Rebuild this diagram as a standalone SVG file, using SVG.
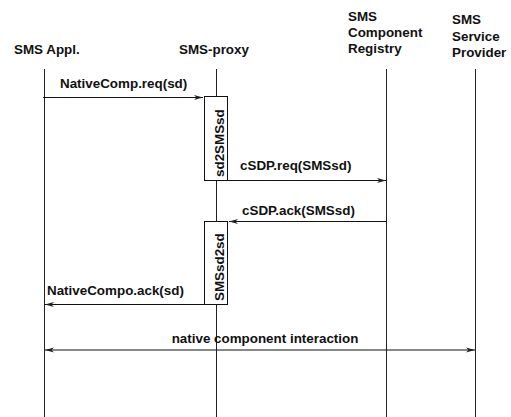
<svg xmlns="http://www.w3.org/2000/svg" width="511" height="417" viewBox="0 0 511 417">
<defs>
<style>
text{font-family:"Liberation Sans",Arial,sans-serif;font-weight:bold;font-size:13.4px;fill:#111}
.life{stroke:#222;stroke-width:1;fill:none}
.msg{stroke:#111;stroke-width:1;fill:none}
.act{fill:#fff;stroke:#111;stroke-width:1}
</style>
<marker id="ah" viewBox="0 0 9 6" refX="9" refY="3" markerWidth="9" markerHeight="6" markerUnits="userSpaceOnUse" orient="auto-start-reverse">
<path d="M0,0.5 L9,3 L0,5.5 L2.5,3 z" fill="#222"/>
</marker>
</defs>
<rect width="511" height="417" fill="#fff"/>
<g id="sms-appl">
<text x="14" y="54">SMS Appl.</text>
<line class="life" x1="44.5" y1="69" x2="44.5" y2="417"/>
</g>
<g id="sms-proxy">
<text x="179" y="54">SMS-proxy</text>
<line class="life" x1="216.5" y1="69" x2="216.5" y2="417"/>
</g>
<g id="registry">
<text x="348" y="21">SMS</text>
<text x="348" y="37">Component</text>
<text x="348" y="53">Registry</text>
<line class="life" x1="386.5" y1="69" x2="386.5" y2="417"/>
</g>
<g id="provider">
<text x="452" y="24">SMS</text>
<text x="452" y="41">Service</text>
<text x="452" y="57">Provider</text>
<line class="life" x1="475.5" y1="69" x2="475.5" y2="417"/>
</g>
<g id="act-sd2SMSsd">
<rect class="act" x="204.5" y="96.5" width="23" height="84"/>
<text transform="translate(224,177) rotate(-90)">sd2SMSsd</text>
</g>
<g id="act-SMSsd2sd">
<rect class="act" x="204.5" y="221.5" width="23" height="83"/>
<text transform="translate(224,301) rotate(-90)">SMSsd2sd</text>
</g>
<g id="connectors">
<line class="msg" x1="43" y1="97.5" x2="203" y2="97.5" marker-end="url(#ah)"/>
<text x="60" y="88">NativeComp.req(sd)</text>
<line class="msg" x1="227.5" y1="180.5" x2="386" y2="180.5" marker-end="url(#ah)"/>
<text x="240" y="170">cSDP.req(SMSsd)</text>
<line class="msg" x1="386.5" y1="221.5" x2="229" y2="221.5" marker-end="url(#ah)"/>
<text x="242" y="215">cSDP.ack(SMSsd)</text>
<line class="msg" x1="204.5" y1="304.5" x2="45" y2="304.5" marker-end="url(#ah)"/>
<text x="47" y="295">NativeCompo.ack(sd)</text>
<line class="msg" x1="45" y1="350" x2="475" y2="350" stroke="#444" stroke-width="1.3" marker-start="url(#ah)" marker-end="url(#ah)"/>
<text x="265" y="343" text-anchor="middle">native component interaction</text>
</g>
</svg>
